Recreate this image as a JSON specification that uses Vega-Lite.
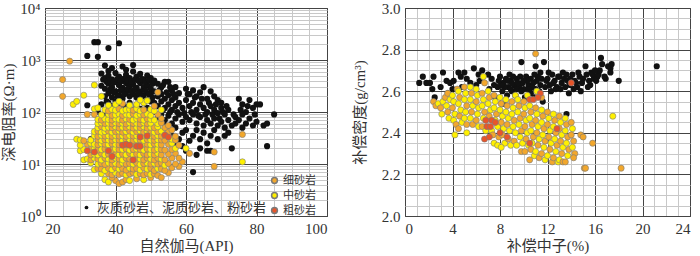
{
"$schema": "https://vega.github.io/schema/vega-lite/v6.json",
"background": "white",
"padding": {"left": 1, "top": 0, "right": 5, "bottom": 0},
"spacing": 23,
"config": {
"view": {"stroke": "#333", "strokeWidth": 1},
"axis": {"labelFont": "Liberation Serif", "labelFontSize": 15, "labelColor": "#333", "titleFont": "Liberation Serif, Noto Sans CJK SC", "titleFontSize": 15, "titleFontWeight": "normal", "titleColor": "#333", "ticks": false, "domain": false, "labelOverlap": false, "labelBound": false, "gridWidth": 1, "labelPadding": 5, "titlePadding": 2},
"legend": {"labelFont": "Liberation Serif, Noto Sans CJK SC", "labelFontSize": 11, "labelColor": "#333", "padding": 0, "rowPadding": 2, "symbolType": "circle", "labelLimit": 0}
},
"datasets": {
"lb": [
{"a":34,"b":2200},{"a":35,"b":2200},{"a":38,"b":1700},{"a":41,"b":2100},{"a":32,"b":1200},{"a":35,"b":1150},{"a":45,"b":800},{"a":42,"b":750},{"a":43,"b":650},{"a":39,"b":700},{"a":37,"b":780},{"a":38,"b":620},
{"a":36,"b":550},{"a":37,"b":450},{"a":38,"b":500},{"a":39,"b":420},{"a":40,"b":560},{"a":41,"b":480},{"a":42,"b":400},{"a":43,"b":520},{"a":44,"b":450},{"a":45,"b":600},{"a":46,"b":480},{"a":47,"b":540},{"a":48,"b":420},{"a":49,"b":500},{"a":50,"b":450},
{"a":36,"b":320},{"a":37,"b":280},{"a":38,"b":350},{"a":39,"b":300},{"a":40,"b":380},{"a":41,"b":330},{"a":42,"b":290},{"a":43,"b":360},{"a":44,"b":310},{"a":45,"b":340},{"a":46,"b":290},{"a":47,"b":360},{"a":48,"b":300},{"a":49,"b":330},{"a":50,"b":280},
{"a":37,"b":200},{"a":38,"b":230},{"a":39,"b":190},{"a":40,"b":250},{"a":41,"b":210},{"a":42,"b":180},{"a":43,"b":240},{"a":44,"b":200},{"a":45,"b":220},{"a":46,"b":190},{"a":47,"b":250},{"a":48,"b":210},{"a":49,"b":170},{"a":50,"b":230},
{"a":38,"b":150},{"a":40,"b":160},{"a":42,"b":140},{"a":44,"b":150},{"a":46,"b":135},{"a":48,"b":150},{"a":50,"b":160},{"a":39,"b":130},{"a":41,"b":120},{"a":43,"b":125},{"a":45,"b":110},{"a":47,"b":115},{"a":49,"b":120},
{"a":36.5,"b":420},{"a":37.5,"b":380},{"a":38.5,"b":400},{"a":39.5,"b":370},{"a":40.5,"b":430},{"a":41.5,"b":390},{"a":42.5,"b":440},{"a":43.5,"b":400},{"a":44.5,"b":380},{"a":45.5,"b":420},{"a":46.5,"b":400},{"a":47.5,"b":430},{"a":48.5,"b":380},{"a":49.5,"b":410},{"a":50.5,"b":350},
{"a":37.5,"b":160},{"a":38.5,"b":270},{"a":39.5,"b":240},{"a":40.5,"b":200},{"a":41.5,"b":260},{"a":42.5,"b":220},{"a":43.5,"b":280},{"a":44.5,"b":250},{"a":45.5,"b":270},{"a":46.5,"b":230},{"a":47.5,"b":200},{"a":48.5,"b":260},{"a":49.5,"b":220},{"a":50.5,"b":190},
{"a":51,"b":400},{"a":52,"b":350},{"a":53,"b":300},{"a":54,"b":380},{"a":55,"b":380},{"a":56,"b":260},{"a":57,"b":300},{"a":51,"b":250},{"a":52,"b":200},{"a":53,"b":220},{"a":54,"b":180},{"a":55,"b":210},{"a":56,"b":170},{"a":57,"b":190},{"a":58,"b":230},
{"a":52.5,"b":260},{"a":53.5,"b":330},{"a":54.5,"b":240},{"a":55.5,"b":300},{"a":56.5,"b":220},
{"a":51,"b":150},{"a":52,"b":130},{"a":53,"b":160},{"a":54,"b":120},{"a":55,"b":140},{"a":56,"b":110},{"a":57,"b":130},{"a":58,"b":150},{"a":59,"b":120},{"a":60,"b":170},
{"a":51,"b":100},{"a":52,"b":80},{"a":53,"b":90},{"a":54,"b":70},{"a":55,"b":85},{"a":56,"b":60},{"a":57,"b":75},{"a":58,"b":90},{"a":59,"b":65},{"a":60,"b":80},
{"a":53.5,"b":110},{"a":55.5,"b":100},{"a":57.5,"b":100},{"a":59.5,"b":95},{"a":61.5,"b":100},{"a":63.5,"b":85},{"a":65.5,"b":90},{"a":67.5,"b":90},{"a":69.5,"b":75},
{"a":52,"b":50},{"a":53,"b":40},{"a":54,"b":55},{"a":55,"b":45},{"a":56,"b":35},{"a":57,"b":50},{"a":58,"b":30},{"a":59,"b":40},{"a":60,"b":45},{"a":57,"b":25},{"a":59,"b":22},{"a":61,"b":28},
{"a":60,"b":280},{"a":61,"b":220},{"a":62,"b":260},{"a":63,"b":200},{"a":64,"b":240},{"a":65,"b":300},{"a":66,"b":180},{"a":67,"b":250},{"a":68,"b":200},{"a":69,"b":170},{"a":70,"b":150},
{"a":60.5,"b":220},{"a":62.5,"b":190},{"a":64.5,"b":180},{"a":66.5,"b":150},{"a":68.5,"b":140},{"a":70.5,"b":100},{"a":71.5,"b":130},{"a":73.5,"b":90},{"a":75.5,"b":110},{"a":77.5,"b":130},{"a":79.5,"b":90},
{"a":61,"b":130},{"a":62,"b":150},{"a":63,"b":110},{"a":64,"b":140},{"a":65,"b":120},{"a":66,"b":100},{"a":67,"b":130},{"a":68,"b":110},{"a":69,"b":95},{"a":70,"b":120},{"a":71,"b":90},{"a":72,"b":110},
{"a":61,"b":70},{"a":62,"b":90},{"a":63,"b":60},{"a":64,"b":80},{"a":65,"b":55},{"a":66,"b":70},{"a":67,"b":60},{"a":68,"b":75},{"a":69,"b":55},{"a":70,"b":65},{"a":71,"b":50},{"a":72,"b":70},{"a":73,"b":55},
{"a":62,"b":35},{"a":63,"b":45},{"a":64,"b":30},{"a":65,"b":40},{"a":66,"b":25},{"a":67,"b":35},{"a":68,"b":45},{"a":69,"b":30},{"a":64,"b":20},{"a":66,"b":18},{"a":67,"b":18},{"a":73,"b":20},{"a":62,"b":7},{"a":60,"b":18},{"a":63,"b":15},
{"a":74,"b":80},{"a":75,"b":180},{"a":76,"b":140},{"a":77,"b":100},{"a":78,"b":170},{"a":79,"b":120},{"a":80,"b":140},{"a":74,"b":60},{"a":75,"b":70},{"a":76,"b":90},{"a":77,"b":60},{"a":78,"b":75},{"a":79,"b":55},{"a":80,"b":65},{"a":81,"b":140},{"a":82,"b":55},{"a":83,"b":60},{"a":83,"b":22},{"a":85,"b":90},{"a":76,"b":50},{"a":72,"b":40},{"a":71,"b":35},
{"a":32,"b":135},{"a":35,"b":100},{"a":36,"b":140},{"a":37,"b":90},{"a":33,"b":30}
],
"ls": [
{"a":37,"b":5,"t":"m"},{"a":38,"b":4.5,"t":"m"},{"a":40,"b":4.8,"t":"f"},{"a":41,"b":4.2,"t":"f"},{"a":42,"b":4.5,"t":"f"},{"a":43,"b":5,"t":"f"},{"a":44,"b":4.8,"t":"m"},{"a":46,"b":5.2,"t":"f"},{"a":48,"b":5,"t":"m"},{"a":50,"b":5.5,"t":"f"},{"a":39,"b":5.5,"t":"f"},
{"a":36,"b":6.5,"t":"m"},{"a":38,"b":6.5,"t":"f"},{"a":39,"b":6.2,"t":"f"},{"a":40,"b":6.8,"t":"m"},{"a":41,"b":6.3,"t":"f"},{"a":42,"b":6.6,"t":"f"},{"a":43,"b":6.2,"t":"m"},{"a":44,"b":6.5,"t":"f"},{"a":45,"b":6.8,"t":"f"},{"a":46,"b":6.3,"t":"m"},{"a":47,"b":6.5,"t":"f"},{"a":48,"b":6.2,"t":"f"},{"a":49,"b":6.6,"t":"f"},{"a":50,"b":6.3,"t":"m"},{"a":51,"b":6.5,"t":"f"},{"a":52,"b":6,"t":"f"},{"a":53,"b":5.5,"t":"f"},{"a":55,"b":6.8,"t":"f"},
{"a":34,"b":7.8,"t":"m"},{"a":35,"b":8.2,"t":"f"},{"a":36,"b":8,"t":"f"},{"a":37,"b":7.5,"t":"m"},{"a":38,"b":8.3,"t":"f"},{"a":39,"b":7.8,"t":"m"},{"a":40,"b":8.5,"t":"f"},{"a":41,"b":8,"t":"m"},{"a":42,"b":8.2,"t":"f"},{"a":43,"b":7.6,"t":"f"},{"a":44,"b":8.4,"t":"m"},{"a":45,"b":8,"t":"f"},{"a":46,"b":8.2,"t":"f"},{"a":47,"b":7.7,"t":"m"},{"a":48,"b":8.5,"t":"f"},{"a":49,"b":8,"t":"m"},{"a":50,"b":8.3,"t":"f"},{"a":51,"b":7.5,"t":"f"},{"a":52,"b":8.2,"t":"m"},{"a":53,"b":8,"t":"f"},{"a":54,"b":7.5,"t":"f"},{"a":56,"b":8.5,"t":"f"},{"a":58,"b":9,"t":"f"},{"a":68,"b":9,"t":"f"},
{"a":33,"b":10.5,"t":"m"},{"a":35,"b":10,"t":"m"},{"a":36,"b":10.2,"t":"f"},{"a":37,"b":9.8,"t":"f"},{"a":38,"b":10.5,"t":"m"},{"a":39,"b":10,"t":"f"},{"a":40,"b":10.3,"t":"m"},{"a":41,"b":9.8,"t":"f"},{"a":42,"b":10.5,"t":"m"},{"a":43,"b":10,"t":"f"},{"a":44,"b":10.2,"t":"f"},{"a":45,"b":10,"t":"m"},{"a":46,"b":10.5,"t":"f"},{"a":47,"b":9.8,"t":"m"},{"a":48,"b":10.2,"t":"f"},{"a":49,"b":10.5,"t":"m"},{"a":50,"b":10,"t":"f"},{"a":51,"b":10.3,"t":"m"},{"a":52,"b":10,"t":"f"},{"a":53,"b":10.5,"t":"f"},{"a":54,"b":9.5,"t":"m"},{"a":55,"b":10.2,"t":"f"},{"a":57,"b":10,"t":"f"},{"a":59,"b":11,"t":"f"},{"a":76,"b":11,"t":"m"},
{"a":31,"b":12,"t":"m"},{"a":32,"b":12.5,"t":"m"},{"a":33,"b":12,"t":"f"},{"a":34,"b":13,"t":"m"},{"a":35,"b":12.5,"t":"f"},{"a":36,"b":12,"t":"m"},{"a":37,"b":13,"t":"f"},{"a":38,"b":12.5,"t":"m"},{"a":39,"b":12,"t":"f"},{"a":40,"b":13,"t":"m"},{"a":41,"b":12.5,"t":"f"},{"a":42,"b":12,"t":"m"},{"a":43,"b":13,"t":"f"},{"a":44,"b":12.5,"t":"f"},{"a":45,"b":12,"t":"m"},{"a":46,"b":13,"t":"f"},{"a":47,"b":12.5,"t":"m"},{"a":48,"b":12,"t":"f"},{"a":49,"b":13,"t":"f"},{"a":50,"b":12.5,"t":"m"},{"a":51,"b":12,"t":"f"},{"a":52,"b":13,"t":"f"},{"a":53,"b":12.5,"t":"m"},{"a":54,"b":12,"t":"f"},{"a":56,"b":13,"t":"f"},{"a":58,"b":13,"t":"f"},
{"a":33,"b":15,"t":"f"},{"a":34,"b":15.5,"t":"m"},{"a":35,"b":15,"t":"m"},{"a":36,"b":16,"t":"f"},{"a":37,"b":15,"t":"m"},{"a":38,"b":15.5,"t":"f"},{"a":39,"b":15,"t":"m"},{"a":40,"b":16,"t":"f"},{"a":41,"b":15,"t":"m"},{"a":42,"b":15.5,"t":"f"},{"a":43,"b":15,"t":"m"},{"a":44,"b":16,"t":"f"},{"a":45,"b":15,"t":"m"},{"a":46,"b":15.5,"t":"f"},{"a":47,"b":15,"t":"m"},{"a":48,"b":16,"t":"f"},{"a":49,"b":15,"t":"f"},{"a":50,"b":15.5,"t":"m"},{"a":51,"b":15,"t":"f"},{"a":52,"b":16,"t":"m"},{"a":53,"b":15,"t":"f"},{"a":55,"b":15.5,"t":"f"},{"a":57,"b":16,"t":"f"},{"a":61,"b":16,"t":"f"},{"a":68,"b":17,"t":"f"},
{"a":30,"b":18,"t":"m"},{"a":31,"b":19,"t":"m"},{"a":33,"b":19,"t":"f"},{"a":34,"b":19.5,"t":"m"},{"a":35,"b":18.5,"t":"f"},{"a":36,"b":19,"t":"m"},{"a":37,"b":19.5,"t":"f"},{"a":38,"b":19,"t":"m"},{"a":39,"b":18.5,"t":"f"},{"a":40,"b":19.5,"t":"m"},{"a":41,"b":19,"t":"f"},{"a":42,"b":19,"t":"m"},{"a":43,"b":19.5,"t":"f"},{"a":44,"b":18.5,"t":"m"},{"a":45,"b":19,"t":"f"},{"a":46,"b":19.5,"t":"m"},{"a":47,"b":19,"t":"f"},{"a":48,"b":18.5,"t":"m"},{"a":49,"b":19.5,"t":"f"},{"a":50,"b":19,"t":"m"},{"a":51,"b":18.5,"t":"f"},{"a":52,"b":19.5,"t":"m"},{"a":53,"b":19,"t":"f"},{"a":54,"b":18.5,"t":"f"},{"a":56,"b":19,"t":"f"},{"a":57,"b":20,"t":"m"},{"a":60,"b":20,"t":"m"},
{"a":30,"b":23,"t":"m"},{"a":32,"b":24,"t":"f"},{"a":33,"b":25,"t":"m"},{"a":34,"b":24,"t":"m"},{"a":35,"b":23.5,"t":"f"},{"a":36,"b":24.5,"t":"m"},{"a":37,"b":24,"t":"f"},{"a":38,"b":23.5,"t":"m"},{"a":39,"b":24.5,"t":"f"},{"a":40,"b":24,"t":"m"},{"a":41,"b":23.5,"t":"f"},{"a":42,"b":24.5,"t":"m"},{"a":43,"b":24,"t":"f"},{"a":44,"b":23.5,"t":"m"},{"a":45,"b":24.5,"t":"f"},{"a":46,"b":24,"t":"m"},{"a":47,"b":23.5,"t":"f"},{"a":48,"b":24.5,"t":"m"},{"a":49,"b":24,"t":"f"},{"a":50,"b":23.5,"t":"m"},{"a":51,"b":24.5,"t":"f"},{"a":52,"b":24,"t":"m"},{"a":53,"b":23.5,"t":"f"},{"a":55,"b":24,"t":"f"},{"a":56,"b":25,"t":"m"},{"a":58,"b":23,"t":"f"},
{"a":29,"b":30,"t":"m"},{"a":30,"b":29,"t":"m"},{"a":31,"b":28,"t":"f"},{"a":33,"b":29,"t":"m"},{"a":35,"b":29,"t":"f"},{"a":36,"b":28.5,"t":"m"},{"a":37,"b":29.5,"t":"f"},{"a":38,"b":29,"t":"m"},{"a":39,"b":28.5,"t":"f"},{"a":40,"b":29.5,"t":"m"},{"a":41,"b":29,"t":"f"},{"a":42,"b":28.5,"t":"m"},{"a":43,"b":29.5,"t":"f"},{"a":44,"b":29,"t":"m"},{"a":45,"b":28.5,"t":"f"},{"a":46,"b":29.5,"t":"m"},{"a":47,"b":29,"t":"f"},{"a":48,"b":28.5,"t":"m"},{"a":49,"b":29.5,"t":"f"},{"a":50,"b":29,"t":"m"},{"a":51,"b":28.5,"t":"f"},{"a":52,"b":29.5,"t":"m"},{"a":53,"b":29,"t":"f"},{"a":54,"b":28.5,"t":"f"},{"a":56,"b":30,"t":"m"},{"a":57,"b":29,"t":"f"},
{"a":34,"b":35,"t":"m"},{"a":35,"b":34,"t":"f"},{"a":36,"b":35.5,"t":"m"},{"a":37,"b":34.5,"t":"f"},{"a":38,"b":35,"t":"m"},{"a":39,"b":34,"t":"f"},{"a":40,"b":35.5,"t":"m"},{"a":41,"b":34.5,"t":"f"},{"a":42,"b":35,"t":"m"},{"a":43,"b":34,"t":"f"},{"a":44,"b":35.5,"t":"m"},{"a":45,"b":34.5,"t":"f"},{"a":46,"b":35,"t":"m"},{"a":47,"b":34,"t":"f"},{"a":48,"b":35.5,"t":"m"},{"a":49,"b":34.5,"t":"f"},{"a":50,"b":35,"t":"m"},{"a":51,"b":34,"t":"f"},{"a":52,"b":35.5,"t":"m"},{"a":53,"b":34.5,"t":"f"},{"a":54,"b":36,"t":"m"},{"a":55,"b":35,"t":"f"},{"a":57,"b":34,"t":"f"},{"a":76,"b":37,"t":"f"},
{"a":34,"b":42,"t":"m"},{"a":35,"b":43,"t":"f"},{"a":36,"b":41,"t":"m"},{"a":37,"b":42,"t":"m"},{"a":38,"b":43,"t":"f"},{"a":39,"b":41,"t":"m"},{"a":40,"b":42,"t":"f"},{"a":41,"b":43,"t":"m"},{"a":42,"b":41,"t":"f"},{"a":43,"b":42,"t":"m"},{"a":44,"b":43,"t":"f"},{"a":45,"b":41,"t":"m"},{"a":46,"b":42,"t":"f"},{"a":47,"b":43,"t":"m"},{"a":48,"b":41,"t":"f"},{"a":49,"b":42,"t":"m"},{"a":50,"b":43,"t":"f"},{"a":51,"b":41,"t":"m"},{"a":52,"b":42,"t":"f"},{"a":53,"b":43,"t":"m"},{"a":55,"b":42,"t":"f"},{"a":56,"b":45,"t":"f"},
{"a":35,"b":50,"t":"m"},{"a":36,"b":52,"t":"f"},{"a":37,"b":49,"t":"m"},{"a":38,"b":51,"t":"m"},{"a":39,"b":50,"t":"f"},{"a":40,"b":52,"t":"m"},{"a":41,"b":49,"t":"f"},{"a":42,"b":51,"t":"m"},{"a":43,"b":50,"t":"f"},{"a":44,"b":52,"t":"m"},{"a":45,"b":49,"t":"f"},{"a":46,"b":51,"t":"m"},{"a":47,"b":50,"t":"f"},{"a":48,"b":52,"t":"m"},{"a":49,"b":49,"t":"f"},{"a":50,"b":51,"t":"m"},{"a":51,"b":50,"t":"f"},{"a":52,"b":52,"t":"m"},{"a":54,"b":50,"t":"f"},{"a":55,"b":55,"t":"f"},
{"a":35,"b":60,"t":"m"},{"a":36,"b":62,"t":"m"},{"a":37,"b":60,"t":"f"},{"a":38,"b":61,"t":"m"},{"a":39,"b":59,"t":"f"},{"a":40,"b":62,"t":"m"},{"a":41,"b":60,"t":"f"},{"a":42,"b":61,"t":"m"},{"a":43,"b":59,"t":"f"},{"a":44,"b":62,"t":"m"},{"a":45,"b":60,"t":"f"},{"a":46,"b":61,"t":"m"},{"a":47,"b":59,"t":"f"},{"a":48,"b":62,"t":"m"},{"a":49,"b":60,"t":"f"},{"a":50,"b":61,"t":"m"},{"a":52,"b":60,"t":"m"},{"a":53,"b":62,"t":"f"},
{"a":35,"b":72,"t":"m"},{"a":36,"b":70,"t":"f"},{"a":37,"b":74,"t":"m"},{"a":38,"b":72,"t":"m"},{"a":39,"b":70,"t":"f"},{"a":40,"b":74,"t":"m"},{"a":41,"b":72,"t":"m"},{"a":42,"b":70,"t":"f"},{"a":43,"b":74,"t":"m"},{"a":44,"b":72,"t":"f"},{"a":45,"b":70,"t":"m"},{"a":46,"b":74,"t":"m"},{"a":47,"b":72,"t":"f"},{"a":48,"b":70,"t":"m"},{"a":49,"b":74,"t":"f"},{"a":50,"b":72,"t":"m"},{"a":51,"b":70,"t":"m"},{"a":53,"b":75,"t":"f"},
{"a":34,"b":90,"t":"f"},{"a":36,"b":88,"t":"m"},{"a":38,"b":90,"t":"m"},{"a":39,"b":86,"t":"f"},{"a":40,"b":88,"t":"m"},{"a":41,"b":92,"t":"m"},{"a":42,"b":86,"t":"f"},{"a":43,"b":90,"t":"m"},{"a":44,"b":88,"t":"m"},{"a":45,"b":92,"t":"f"},{"a":46,"b":86,"t":"m"},{"a":47,"b":90,"t":"m"},{"a":48,"b":88,"t":"f"},{"a":49,"b":92,"t":"m"},{"a":50,"b":86,"t":"m"},{"a":52,"b":90,"t":"f"},{"a":32,"b":90,"t":"f"},
{"a":34,"b":115,"t":"m"},{"a":37,"b":110,"t":"m"},{"a":38,"b":105,"t":"f"},{"a":39,"b":112,"t":"m"},{"a":40,"b":108,"t":"m"},{"a":41,"b":115,"t":"f"},{"a":42,"b":105,"t":"m"},{"a":43,"b":110,"t":"m"},{"a":44,"b":112,"t":"m"},{"a":45,"b":108,"t":"f"},{"a":46,"b":115,"t":"m"},{"a":47,"b":105,"t":"m"},{"a":48,"b":110,"t":"f"},{"a":50,"b":112,"t":"m"},{"a":51,"b":105,"t":"m"},{"a":53,"b":110,"t":"m"},
{"a":38,"b":135,"t":"m"},{"a":40,"b":140,"t":"m"},{"a":42,"b":145,"t":"f"},{"a":44,"b":135,"t":"m"},{"a":46,"b":140,"t":"m"},{"a":48,"b":150,"t":"m"},{"a":49,"b":165,"t":"m"},{"a":41,"b":160,"t":"m"},{"a":51,"b":130,"t":"f"},{"a":35,"b":120,"t":"m"},
{"a":27,"b":950,"t":"f"},{"a":25,"b":420,"t":"f"},{"a":25,"b":200,"t":"f"},{"a":28,"b":140,"t":"m"},{"a":29,"b":160,"t":"m"},{"a":31,"b":210,"t":"m"},{"a":34,"b":330,"t":"m"},{"a":36,"b":200,"t":"m"},{"a":52,"b":240,"t":"f"},{"a":47,"b":170,"t":"m"},
{"a":32,"b":18,"t":"c"},{"a":34,"b":17,"t":"c"},{"a":38,"b":18,"t":"c"},{"a":39,"b":14,"t":"c"},{"a":42,"b":23,"t":"c"},{"a":43,"b":24,"t":"c"},{"a":44,"b":23,"t":"c"},{"a":46,"b":22,"t":"c"},{"a":47,"b":22,"t":"c"},{"a":45,"b":12,"t":"c"},{"a":47,"b":33,"t":"c"},{"a":49,"b":35,"t":"c"},{"a":54,"b":36,"t":"c"},{"a":55,"b":33,"t":"c"}
],
"rb": [
{"a":1.2,"b":2.64},{"a":1.5,"b":2.67},{"a":1.8,"b":2.64},{"a":2.1,"b":2.64},{"a":2.4,"b":2.67},{"a":2.3,"b":2.61},{"a":2.5,"b":2.57},{"a":3.2,"b":2.69},{"a":3.0,"b":2.62},{"a":3.5,"b":2.65},{"a":3.8,"b":2.64},{"a":4.1,"b":2.65},{"a":3.6,"b":2.59},{"a":4.0,"b":2.61},
{"a":4.5,"b":2.69},{"a":4.7,"b":2.67},{"a":5.0,"b":2.69},{"a":5.2,"b":2.66},{"a":5.5,"b":2.64},{"a":4.8,"b":2.62},{"a":5.8,"b":2.71},{"a":6.2,"b":2.68},{"a":6.5,"b":2.70},{"a":6.3,"b":2.65},{"a":7.0,"b":2.68},{"a":7.3,"b":2.66},{"a":7.5,"b":2.63},{"a":7.8,"b":2.62},{"a":7.1,"b":2.61},{"a":6.0,"b":2.63},
{"a":8.0,"b":2.67},{"a":8.3,"b":2.64},{"a":8.5,"b":2.66},{"a":8.7,"b":2.62},{"a":8.9,"b":2.65},{"a":9.0,"b":2.60},{"a":9.2,"b":2.63},{"a":9.4,"b":2.66},{"a":9.6,"b":2.62},{"a":9.8,"b":2.74},{"a":9.9,"b":2.64},{"a":10.0,"b":2.61},{"a":10.2,"b":2.67},{"a":10.4,"b":2.63},{"a":10.5,"b":2.60},{"a":10.6,"b":2.66},{"a":10.8,"b":2.64},{"a":11.0,"b":2.72},{"a":11.0,"b":2.61},{"a":11.2,"b":2.67},{"a":11.4,"b":2.63},{"a":11.5,"b":2.66},{"a":11.7,"b":2.74},{"a":11.8,"b":2.62},{"a":11.9,"b":2.65},{"a":8.2,"b":2.60},{"a":8.6,"b":2.58},{"a":9.3,"b":2.58},{"a":10.1,"b":2.57},{"a":10.9,"b":2.57},{"a":11.6,"b":2.55},{"a":8.4,"b":2.62},{"a":9.1,"b":2.67},{"a":9.7,"b":2.67},{"a":10.3,"b":2.65},{"a":11.1,"b":2.65},{"a":8.8,"b":2.68},{"a":9.5,"b":2.64},{"a":10.7,"b":2.62},{"a":11.3,"b":2.60},
{"a":12.0,"b":2.66},{"a":12.2,"b":2.63},{"a":12.4,"b":2.68},{"a":12.6,"b":2.65},{"a":12.8,"b":2.62},{"a":13.0,"b":2.67},{"a":13.2,"b":2.64},{"a":13.4,"b":2.66},{"a":13.5,"b":2.62},{"a":13.7,"b":2.65},{"a":13.9,"b":2.63},{"a":14.1,"b":2.68},{"a":14.3,"b":2.65},{"a":14.5,"b":2.62},{"a":14.7,"b":2.67},{"a":14.8,"b":2.60},{"a":15.0,"b":2.66},{"a":15.2,"b":2.72},{"a":15.3,"b":2.68},{"a":15.5,"b":2.65},{"a":15.7,"b":2.69},{"a":15.9,"b":2.66},{"a":12.3,"b":2.60},{"a":13.1,"b":2.61},{"a":13.8,"b":2.59},{"a":14.4,"b":2.64},{"a":13.3,"b":2.69},{"a":12.9,"b":2.67},{"a":15.6,"b":2.63},
{"a":8.1,"b":2.63},{"a":8.7,"b":2.65},{"a":9.4,"b":2.61},{"a":10.0,"b":2.65},{"a":10.6,"b":2.59},{"a":11.4,"b":2.69},{"a":12.1,"b":2.69},{"a":12.7,"b":2.61},{"a":13.6,"b":2.68},{"a":14.2,"b":2.61},{"a":14.9,"b":2.64},{"a":15.4,"b":2.62},{"a":9.0,"b":2.64},{"a":9.8,"b":2.60},{"a":10.9,"b":2.68},{"a":12.5,"b":2.64},{"a":13.9,"b":2.66},{"a":14.6,"b":2.69},{"a":15.8,"b":2.68},{"a":16.2,"b":2.67},{"a":7.9,"b":2.65},{"a":8.9,"b":2.61},{"a":10.4,"b":2.61},
{"a":16.1,"b":2.65},{"a":16.3,"b":2.68},{"a":16.5,"b":2.76},{"a":16.6,"b":2.73},{"a":16.4,"b":2.70},{"a":16.9,"b":2.66},{"a":17.1,"b":2.72},{"a":17.3,"b":2.71},{"a":17.4,"b":2.73},{"a":17.3,"b":2.69},{"a":18.0,"b":2.65},{"a":21.2,"b":2.72},{"a":16.0,"b":2.70},{"a":16.8,"b":2.67},
{"a":13.6,"b":2.49},{"a":7.6,"b":2.57},{"a":8.3,"b":2.54}
],
"rs": [
{"a":2.4,"b":2.55,"t":"f"},{"a":2.6,"b":2.53,"t":"f"},{"a":2.8,"b":2.54,"t":"m"},
{"a":3.0,"b":2.52,"t":"f"},{"a":3.2,"b":2.55,"t":"m"},{"a":3.1,"b":2.49,"t":"m"},{"a":3.4,"b":2.57,"t":"f"},
{"a":3.5,"b":2.53,"t":"m"},{"a":3.6,"b":2.50,"t":"f"},{"a":3.7,"b":2.47,"t":"m"},{"a":3.8,"b":2.56,"t":"m"},{"a":3.6,"b":2.59,"t":"f"},
{"a":4.0,"b":2.58,"t":"m"},{"a":4.1,"b":2.55,"t":"m"},{"a":4.0,"b":2.52,"t":"f"},{"a":4.2,"b":2.49,"t":"m"},{"a":4.1,"b":2.46,"t":"m"},{"a":4.3,"b":2.44,"t":"f"},{"a":4.2,"b":2.39,"t":"m"},{"a":4.4,"b":2.61,"t":"f"},
{"a":4.5,"b":2.60,"t":"m"},{"a":4.6,"b":2.57,"t":"f"},{"a":4.5,"b":2.54,"t":"m"},{"a":4.7,"b":2.51,"t":"m"},{"a":4.6,"b":2.48,"t":"f"},{"a":4.8,"b":2.45,"t":"m"},{"a":4.5,"b":2.42,"t":"f"},
{"a":5.0,"b":2.62,"t":"f"},{"a":5.1,"b":2.59,"t":"m"},{"a":5.0,"b":2.56,"t":"m"},{"a":5.2,"b":2.53,"t":"f"},{"a":5.1,"b":2.50,"t":"m"},{"a":5.0,"b":2.47,"t":"m"},{"a":5.2,"b":2.44,"t":"f"},{"a":5.2,"b":2.40,"t":"m"},
{"a":5.5,"b":2.62,"t":"m"},{"a":5.6,"b":2.59,"t":"f"},{"a":5.5,"b":2.56,"t":"m"},{"a":5.7,"b":2.53,"t":"m"},{"a":5.6,"b":2.50,"t":"f"},{"a":5.5,"b":2.47,"t":"m"},{"a":5.7,"b":2.44,"t":"f"},
{"a":6.0,"b":2.61,"t":"m"},{"a":6.1,"b":2.58,"t":"m"},{"a":6.0,"b":2.55,"t":"f"},{"a":6.2,"b":2.52,"t":"m"},{"a":6.1,"b":2.49,"t":"m"},{"a":6.0,"b":2.46,"t":"f"},{"a":6.2,"b":2.43,"t":"m"},{"a":6.6,"b":2.67,"t":"m"},{"a":6.7,"b":2.64,"t":"f"},
{"a":6.5,"b":2.59,"t":"f"},{"a":6.6,"b":2.56,"t":"m"},{"a":6.5,"b":2.53,"t":"m"},{"a":6.7,"b":2.50,"t":"f"},{"a":6.6,"b":2.47,"t":"m"},{"a":6.5,"b":2.43,"t":"f"},{"a":6.8,"b":2.41,"t":"m"},
{"a":7.0,"b":2.60,"t":"m"},{"a":7.1,"b":2.57,"t":"f"},{"a":7.0,"b":2.54,"t":"m"},{"a":7.2,"b":2.51,"t":"m"},{"a":7.1,"b":2.48,"t":"f"},{"a":7.3,"b":2.41,"t":"m"},{"a":7.5,"b":2.35,"t":"m"},{"a":7.4,"b":2.39,"t":"f"},
{"a":7.5,"b":2.58,"t":"f"},{"a":7.6,"b":2.55,"t":"m"},{"a":7.5,"b":2.52,"t":"m"},{"a":7.7,"b":2.49,"t":"f"},{"a":7.6,"b":2.46,"t":"m"},{"a":7.8,"b":2.43,"t":"m"},{"a":7.9,"b":2.38,"t":"f"},{"a":7.8,"b":2.34,"t":"m"},
{"a":8.0,"b":2.57,"t":"m"},{"a":8.1,"b":2.54,"t":"f"},{"a":8.0,"b":2.51,"t":"m"},{"a":8.2,"b":2.48,"t":"m"},{"a":8.1,"b":2.45,"t":"f"},{"a":8.3,"b":2.42,"t":"m"},{"a":8.2,"b":2.39,"t":"f"},{"a":8.4,"b":2.35,"t":"m"},{"a":8.1,"b":2.33,"t":"m"},
{"a":8.5,"b":2.56,"t":"m"},{"a":8.6,"b":2.53,"t":"f"},{"a":8.5,"b":2.50,"t":"m"},{"a":8.7,"b":2.47,"t":"m"},{"a":8.6,"b":2.44,"t":"f"},{"a":8.8,"b":2.41,"t":"m"},{"a":8.7,"b":2.37,"t":"f"},{"a":8.9,"b":2.34,"t":"m"},
{"a":9.0,"b":2.55,"t":"f"},{"a":9.1,"b":2.52,"t":"m"},{"a":9.0,"b":2.49,"t":"m"},{"a":9.2,"b":2.46,"t":"f"},{"a":9.1,"b":2.43,"t":"m"},{"a":9.3,"b":2.40,"t":"m"},{"a":9.2,"b":2.36,"t":"f"},{"a":9.4,"b":2.34,"t":"m"},{"a":9.3,"b":2.58,"t":"m"},
{"a":9.5,"b":2.56,"t":"m"},{"a":9.6,"b":2.53,"t":"f"},{"a":9.5,"b":2.50,"t":"m"},{"a":9.7,"b":2.47,"t":"f"},{"a":9.6,"b":2.44,"t":"m"},{"a":9.8,"b":2.41,"t":"f"},{"a":9.7,"b":2.38,"t":"m"},{"a":9.9,"b":2.35,"t":"m"},{"a":9.8,"b":2.31,"t":"f"},
{"a":10.0,"b":2.55,"t":"f"},{"a":10.1,"b":2.52,"t":"m"},{"a":10.0,"b":2.49,"t":"f"},{"a":10.2,"b":2.46,"t":"m"},{"a":10.1,"b":2.43,"t":"f"},{"a":10.3,"b":2.40,"t":"m"},{"a":10.2,"b":2.37,"t":"f"},{"a":10.4,"b":2.34,"t":"m"},{"a":10.1,"b":2.31,"t":"f"},{"a":10.3,"b":2.58,"t":"m"},
{"a":10.5,"b":2.53,"t":"m"},{"a":10.6,"b":2.50,"t":"f"},{"a":10.5,"b":2.47,"t":"m"},{"a":10.7,"b":2.44,"t":"f"},{"a":10.6,"b":2.41,"t":"m"},{"a":10.8,"b":2.38,"t":"f"},{"a":10.7,"b":2.35,"t":"m"},{"a":10.6,"b":2.32,"t":"f"},{"a":10.5,"b":2.27,"t":"f"},{"a":10.9,"b":2.29,"t":"m"},
{"a":11.0,"b":2.52,"t":"f"},{"a":11.1,"b":2.49,"t":"m"},{"a":11.0,"b":2.46,"t":"f"},{"a":11.2,"b":2.43,"t":"m"},{"a":11.1,"b":2.40,"t":"f"},{"a":11.3,"b":2.37,"t":"m"},{"a":11.2,"b":2.34,"t":"f"},{"a":11.0,"b":2.31,"t":"m"},{"a":11.3,"b":2.28,"t":"f"},{"a":11.0,"b":2.78,"t":"f"},{"a":11.1,"b":2.60,"t":"m"},
{"a":11.5,"b":2.51,"t":"m"},{"a":11.6,"b":2.48,"t":"f"},{"a":11.5,"b":2.45,"t":"m"},{"a":11.7,"b":2.42,"t":"f"},{"a":11.6,"b":2.39,"t":"m"},{"a":11.8,"b":2.36,"t":"f"},{"a":11.7,"b":2.33,"t":"m"},{"a":11.5,"b":2.30,"t":"f"},{"a":11.8,"b":2.27,"t":"m"},
{"a":12.0,"b":2.50,"t":"f"},{"a":12.1,"b":2.47,"t":"m"},{"a":12.0,"b":2.44,"t":"f"},{"a":12.2,"b":2.41,"t":"m"},{"a":12.1,"b":2.38,"t":"f"},{"a":12.3,"b":2.35,"t":"m"},{"a":12.2,"b":2.32,"t":"f"},{"a":12.0,"b":2.29,"t":"m"},{"a":12.4,"b":2.26,"t":"f"},
{"a":12.5,"b":2.49,"t":"m"},{"a":12.6,"b":2.46,"t":"f"},{"a":12.5,"b":2.43,"t":"m"},{"a":12.7,"b":2.40,"t":"f"},{"a":12.6,"b":2.37,"t":"m"},{"a":12.8,"b":2.34,"t":"f"},{"a":12.7,"b":2.31,"t":"m"},{"a":12.5,"b":2.28,"t":"f"},{"a":12.9,"b":2.26,"t":"m"},
{"a":13.0,"b":2.48,"t":"f"},{"a":13.1,"b":2.45,"t":"m"},{"a":13.0,"b":2.42,"t":"f"},{"a":13.2,"b":2.39,"t":"m"},{"a":13.1,"b":2.36,"t":"f"},{"a":13.3,"b":2.33,"t":"m"},{"a":13.2,"b":2.30,"t":"f"},{"a":13.0,"b":2.27,"t":"m"},{"a":13.3,"b":2.26,"t":"f"},
{"a":13.5,"b":2.47,"t":"m"},{"a":13.6,"b":2.44,"t":"f"},{"a":13.5,"b":2.41,"t":"m"},{"a":13.7,"b":2.38,"t":"f"},{"a":13.6,"b":2.35,"t":"m"},{"a":13.8,"b":2.32,"t":"f"},{"a":13.7,"b":2.29,"t":"m"},{"a":13.5,"b":2.26,"t":"f"},
{"a":14.0,"b":2.45,"t":"f"},{"a":14.1,"b":2.42,"t":"m"},{"a":14.0,"b":2.39,"t":"f"},{"a":14.2,"b":2.36,"t":"f"},{"a":14.1,"b":2.33,"t":"m"},{"a":14.3,"b":2.30,"t":"f"},{"a":14.2,"b":2.28,"t":"f"},
{"a":14.8,"b":2.39,"t":"f"},{"a":15.0,"b":2.38,"t":"f"},{"a":15.1,"b":2.23,"t":"f"},{"a":15.2,"b":2.23,"t":"f"},{"a":18.2,"b":2.23,"t":"f"},{"a":15.8,"b":2.35,"t":"f"},{"a":17.5,"b":2.48,"t":"m"},{"a":11.5,"b":2.57,"t":"f"},
{"a":6.7,"b":2.37,"t":"c"},{"a":7.1,"b":2.38,"t":"c"},{"a":6.9,"b":2.43,"t":"c"},{"a":7.2,"b":2.43,"t":"c"},{"a":7.3,"b":2.46,"t":"c"},{"a":7.6,"b":2.45,"t":"c"},{"a":6.8,"b":2.46,"t":"c"},{"a":8.0,"b":2.40,"t":"c"},{"a":8.6,"b":2.38,"t":"c"},{"a":10.5,"b":2.35,"t":"c"},{"a":12.8,"b":2.42,"t":"c"},{"a":10.5,"b":2.56,"t":"c"},{"a":10.8,"b":2.56,"t":"c"},{"a":11.4,"b":2.59,"t":"c"},{"a":11.2,"b":2.57,"t":"c"},{"a":14.0,"b":2.64,"t":"c"}
]
},
"hconcat": [
{
"width": 282, "height": 208,
"encoding": {
"x": {"field": "a", "type": "quantitative", "scale": {"domain": [20, 100], "nice": false},
"axis": {"title": "自然伽马(API)", "values": [20,25,30,35,40,45,50,55,60,65,70,75,80,85,90,95,100],
"gridColor": {"condition": {"test": "datum.value % 20 === 0", "value": "#444"}, "value": "#c8c8c8"},
"labelExpr": "datum.value % 20 === 0 ? datum.label : ''"}},
"y": {"field": "b", "type": "quantitative", "scale": {"type": "log", "domain": [1, 10000], "nice": false},
"axis": {"title": "深电阻率(Ω·m)", "titlePadding": 3, "values": [1,2,3,4,5,6,7,8,9,10,20,30,40,50,60,70,80,90,100,200,300,400,500,600,700,800,900,1000,2000,3000,4000,5000,6000,7000,8000,9000,10000],
"gridColor": {"condition": {"test": "indexof([1,10,100,1000,10000], datum.value) >= 0", "value": "#444"}, "value": "#c8c8c8"},
"labelExpr": "datum.value === 1 ? '10⁰' : datum.value === 10 ? '10¹' : datum.value === 100 ? '10²' : datum.value === 1000 ? '10³' : datum.value === 10000 ? '10⁴' : ''"}}
},
"layer": [
{"data": {"name": "lb"}, "mark": {"type": "point", "filled": true, "size": 38, "opacity": 1},
"encoding": {"color": {"datum": "灰质砂岩、泥质砂岩、粉砂岩", "scale": {"range": ["#111111"]},
"legend": {"orient": "none", "legendX": 35, "legendY": 193, "symbolSize": 14, "labelOffset": 4, "labelFontSize": 13, "title": null}}}},
{"data": {"name": "ls"}, "mark": {"type": "point", "filled": true, "size": 38, "opacity": 1, "stroke": "#7a7a7a", "strokeWidth": 0.6},
"encoding": {"color": {"field": "t", "type": "nominal", "scale": {"domain": ["f", "m", "c"], "range": ["#F2A72C", "#FFF000", "#E8552A"]},
"legend": {"orient": "none", "legendX": 224, "legendY": 167, "symbolSize": 34, "labelOffset": 3, "title": null,
"labelExpr": "datum.label == 'f' ? '细砂岩' : datum.label == 'm' ? '中砂岩' : '粗砂岩'"}}}}
],
"resolve": {"scale": {"color": "independent"}, "legend": {"color": "independent"}}
},
{
"width": 285, "height": 208,
"encoding": {
"x": {"field": "a", "type": "quantitative", "scale": {"domain": [0, 24], "nice": false},
"axis": {"title": "补偿中子(%)", "values": [0,1,2,3,4,5,6,7,8,9,10,11,12,13,14,15,16,17,18,19,20,21,22,23,24],
"gridColor": {"condition": {"test": "datum.value % 4 === 0", "value": "#444"}, "value": "#c8c8c8"},
"labelExpr": "datum.value % 4 === 0 ? datum.label : ''"}},
"y": {"field": "b", "type": "quantitative", "scale": {"domain": [2, 3], "nice": false, "zero": false},
"axis": {"title": "补偿密度(g/cm³)", "titlePadding": 14, "values": [2,2.05,2.1,2.15,2.2,2.25,2.3,2.35,2.4,2.45,2.5,2.55,2.6,2.65,2.7,2.75,2.8,2.85,2.9,2.95,3],
"gridColor": {"condition": {"test": "abs(datum.value*5 - round(datum.value*5)) < 0.001", "value": "#444"}, "value": "#c8c8c8"},
"labelExpr": "abs(datum.value*5 - round(datum.value*5)) < 0.001 ? format(datum.value, '.1f') : ''"}}
},
"layer": [
{"data": {"name": "rb"}, "mark": {"type": "point", "filled": true, "size": 38, "opacity": 1, "color": "#111111"}},
{"data": {"name": "rs"}, "mark": {"type": "point", "filled": true, "size": 38, "opacity": 1, "stroke": "#7a7a7a", "strokeWidth": 0.6},
"encoding": {"fill": {"field": "t", "type": "nominal", "scale": {"domain": ["f", "m", "c"], "range": ["#F2A72C", "#FFF000", "#E8552A"]}, "legend": null}}}
]
}
]
}
